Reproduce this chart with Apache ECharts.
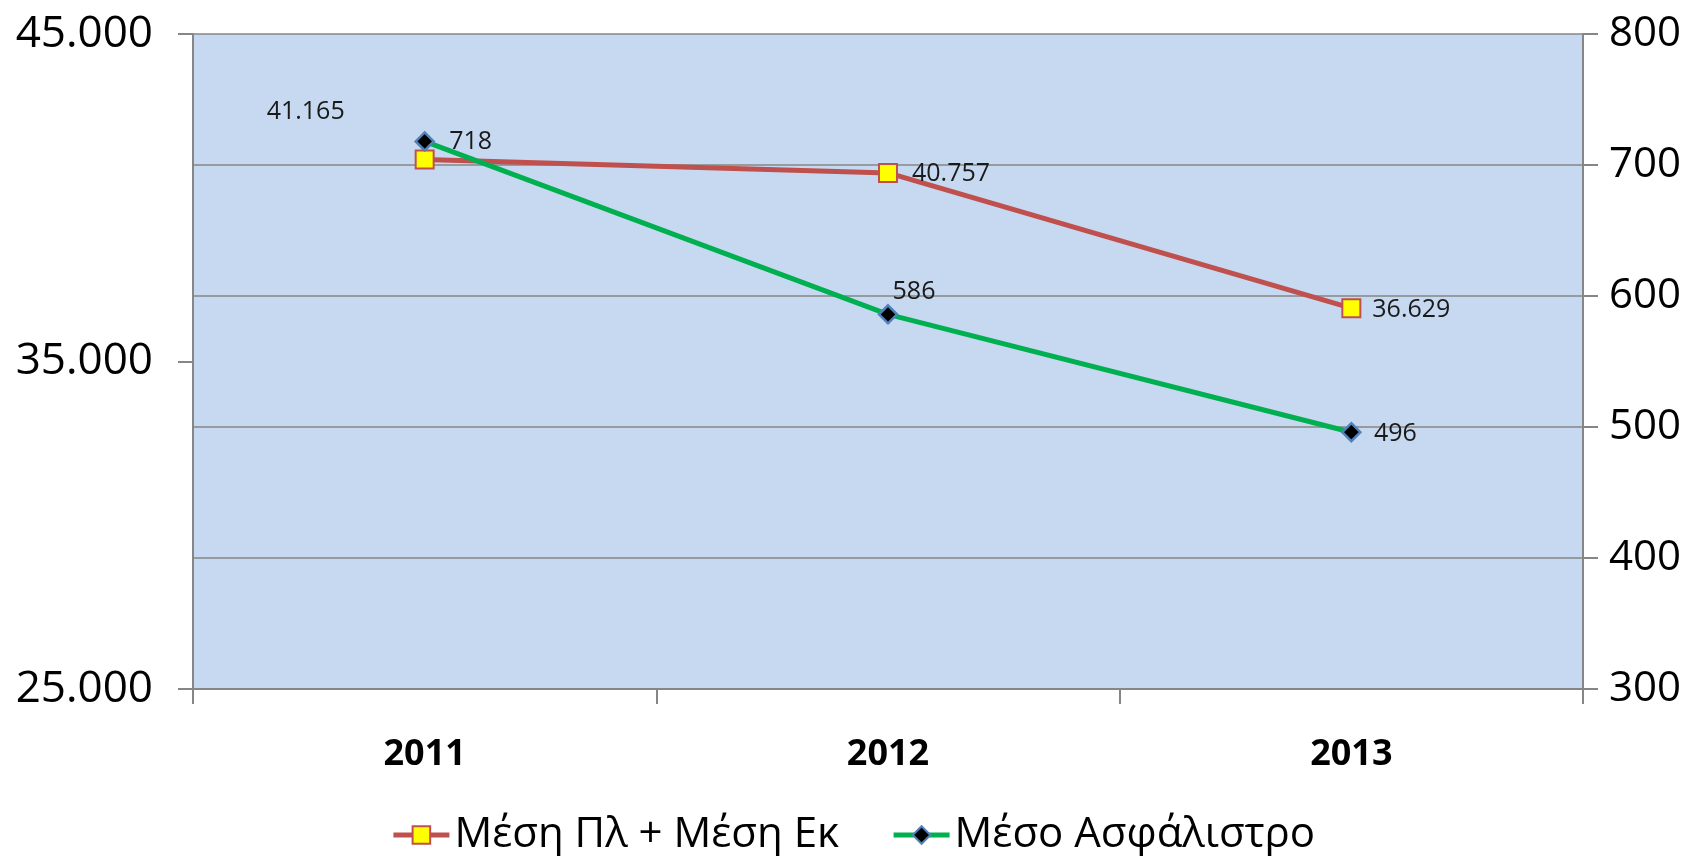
<!DOCTYPE html>
<html>
<head>
<meta charset="utf-8">
<script src="https://cdn.jsdelivr.net/npm/echarts@6/dist/echarts.min.js"></script>
<style>
  html, body { margin: 0; padding: 0; background: #fff; }
  #chart { width: 1706px; height: 856px; }
</style>
</head>
<body>
<div id="chart"></div>
<script>
const years = ["2011", "2012", "2013"];
const avgPlEk = [41165, 40757, 36629];   // left axis
const avgPremium = [718, 586, 496];       // right axis
const leftTicks = [25000, 35000, 45000];
const rightTicks = [300, 400, 500, 600, 700, 800];

// label placement (px offset from point centre)
const redOffsets = [[-119, -48], [63, 1], [60, 2]];
const greenOffsets = [[46, 0], [26, -22], [44, 2]];

const font = "'Open Sans', 'Noto Sans', sans-serif";
const dots = (v) => String(v).replace(/\B(?=(\d{3})+(?!\d))/g, ".");
const gray = "#868686";

const chart = echarts.init(document.getElementById("chart"));
chart.setOption({
  animation: false,
  textStyle: { fontFamily: font },
  grid: {
    left: 193, right: 123, top: 34, bottom: 167,
    show: true, backgroundColor: "#C6D9F0", borderWidth: 0,
  },
  legend: {
    top: 809,
    left: "center",
    itemWidth: 56,
    itemHeight: 22,
    itemGap: 52,
    lineStyle: { width: 5 },
    textStyle: { fontSize: 42, color: "#000", fontFamily: font },
    data: ["Μέση Πλ + Μέση Εκ", "Μέσο Ασφάλιστρο"],
  },
  xAxis: {
    type: "category",
    data: years,
    boundaryGap: true,
    axisLine: { lineStyle: { color: gray, width: 2 } },
    axisTick: { show: true, interval: 0, length: 15, lineStyle: { color: gray, width: 2 } },
    axisLabel: { fontSize: 36, fontWeight: "bold", color: "#000", margin: 48 },
  },
  yAxis: [
    {
      type: "value",
      min: leftTicks[0],
      max: leftTicks[leftTicks.length - 1],
      interval: leftTicks[1] - leftTicks[0],
      position: "left",
      axisLine: { show: true, lineStyle: { color: gray, width: 2 } },
      axisTick: { show: true, length: 15, lineStyle: { color: gray, width: 2 } },
      splitLine: { show: false },
      axisLabel: { fontSize: 44, color: "#000", margin: 40, formatter: (v) => dots(v) },
    },
    {
      type: "value",
      min: rightTicks[0],
      max: rightTicks[rightTicks.length - 1],
      interval: rightTicks[1] - rightTicks[0],
      position: "right",
      axisLine: { show: true, lineStyle: { color: gray, width: 2 } },
      axisTick: { show: true, length: 15, lineStyle: { color: gray, width: 2 } },
      splitLine: { show: true, lineStyle: { color: gray, width: 1.5 } },
      axisLabel: { fontSize: 42, color: "#000", margin: 26 },
    },
  ],
  series: [
    {
      name: "Μέση Πλ + Μέση Εκ",
      type: "line",
      yAxisIndex: 0,
      symbol: "rect",
      symbolSize: 18,
      itemStyle: { color: "#FFFF00", borderColor: "#C0504D", borderWidth: 2 },
      lineStyle: { color: "#C0504D", width: 5 },
      data: avgPlEk.map((v, i) => ({
        value: v,
        label: {
          show: true, position: "inside", offset: redOffsets[i],
          formatter: (p) => dots(p.value), fontSize: 25, color: "#1a1a1a",
        },
      })),
      z: 2,
    },
    {
      name: "Μέσο Ασφάλιστρο",
      type: "line",
      yAxisIndex: 1,
      symbol: "diamond",
      symbolSize: 18,
      itemStyle: { color: "#000", borderColor: "#4F81BD", borderWidth: 2.5 },
      lineStyle: { color: "#00B050", width: 5 },
      data: avgPremium.map((v, i) => ({
        value: v,
        label: {
          show: true, position: "inside", offset: greenOffsets[i],
          formatter: (p) => String(p.value), fontSize: 25, color: "#1a1a1a",
        },
      })),
      z: 3,
    },
  ],
});
</script>
</body>
</html>
